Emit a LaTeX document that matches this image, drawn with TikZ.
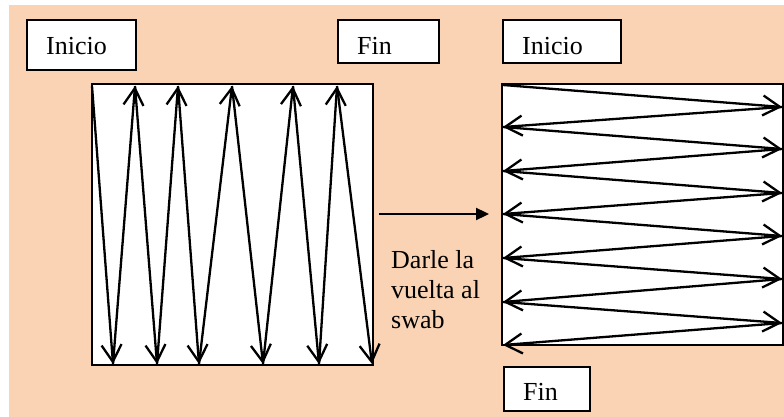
\documentclass[tikz,border=0pt]{standalone}
\usepackage{fontspec}
\setmainfont{Liberation Serif}
\usepackage{tikz}
\usetikzlibrary{arrows.meta}
\definecolor{peach}{HTML}{FAD3B4}

\begin{document}
\begin{tikzpicture}[x=1pt, y=-1pt,
  tag/.style={draw, fill=white, line width=2.3pt, anchor=north west, inner xsep=19pt, inner ysep=0pt, align=left, font=\rmfamily\fontsize{26}{30}\selectfont},
  swab/.style={draw, fill=white, line width=2.3pt},
  pass/.style={-{Straight Barb[length=17pt, width=20pt]}, line width=2.3pt},
  turn/.style={-{Triangle[length=13pt, width=12pt]}, line width=2.3pt}]
  \useasboundingbox (0,0) rectangle (784,417);
  \fill[peach] (9,5) rectangle (784,417);
  % labels
  \node[tag, text width=71pt, text height=34pt, text depth=16pt] (inicioA) at (26,19) {Inicio};
  \node[tag, text width=63pt, text height=34pt, text depth=9pt] (finA) at (337,19) {Fin};
  \node[tag, text width=80pt, text height=34pt, text depth=9pt] (inicioB) at (502,19) {Inicio};
  \node[tag, text width=48pt, text height=33pt, text depth=11pt] (finB) at (503,366) {Fin};
  % swab before turning: vertical passes
  \draw[swab] (92,84) rectangle (373,365);
  \foreach \x [count=\i] in {92,135,178,232,293,337} \coordinate (t\i) at (\x,86);
  \foreach \x [count=\i] in {113,157,199,263,319,372} \coordinate (b\i) at (\x,364);
  \foreach \i in {1,...,6} \draw[pass] (t\i) -- (b\i);
  \foreach \i [evaluate=\i as \j using int(\i+1)] in {1,...,5} \draw[pass] (b\i) -- (t\j);
  % turn
  \coordinate (flipA) at (379,214);
  \coordinate (flipB) at (489,214);
  \draw[turn] (flipA) -- (flipB);
  \node[font=\rmfamily\fontsize{26}{30}\selectfont, align=left, anchor=north west, inner sep=0pt] (flip) at (391,250) {Darle la\\vuelta al\\swab};
  % swab after turning: horizontal passes
  \draw[swab] (502,84) rectangle (783,345);
  \foreach \y [count=\i] in {85,127,171,214,258,302,345} \coordinate (l\i) at (503,\y);
  \foreach \y [count=\i] in {107,149,193,236,279,323} \coordinate (r\i) at (782,\y);
  \foreach \i [evaluate=\i as \j using int(\i+1)] in {1,...,6} {
    \draw[pass] (l\i) -- (r\i);
    \draw[pass] (r\i) -- (l\j);
  }
\end{tikzpicture}
\end{document}
